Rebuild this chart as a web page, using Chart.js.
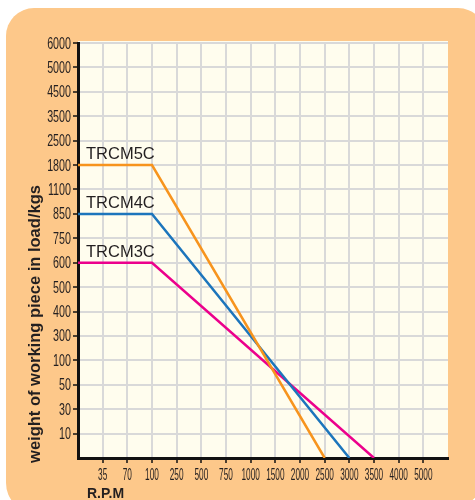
<!DOCTYPE html>
<html>
<head>
<meta charset="utf-8">
<script src="https://cdn.jsdelivr.net/npm/chart.js@4"></script>
<style>
  body { margin: 0; background: #fff; }
  canvas { display: block; }
</style>
</head>
<body>
<canvas id="myChart" width="475" height="500"></canvas>
<script>
'use strict';
// tick values along the axes (spaced evenly, not to scale)
const rpmTicks = [0, 35, 70, 100, 250, 500, 750, 1000, 1500, 2000, 2500, 3000, 3500, 4000, 5000];
const loadTicks = [0, 10, 30, 50, 100, 300, 400, 500, 600, 750, 850, 1100, 1800, 2500, 3500, 4500, 5000, 6000];

// series
const seriesNames = ['TRCM5C', 'TRCM4C', 'TRCM3C'];
const seriesColors = ['#F7941D', '#1C75BC', '#EC008C'];
const rpm5 = [0, 100, 2500];
const load5 = [1800, 1800, 0];
const rpm4 = [0, 100, 3000];
const load4 = [850, 850, 0];
const rpm3 = [0, 100, 3500];
const load3 = [600, 600, 0];

// value -> position on the evenly spaced axis
const toPoints = (rpm, load) => rpm.map((r, i) => ({
  x: rpmTicks.indexOf(r),
  y: loadTicks.indexOf(load[i])
}));

// the tick numbers are a narrow face, squeeze the text horizontally
const tickFont = '16.5px "Liberation Sans", Arial, sans-serif';
const squeezeY = 0.65;
const squeezeX = 0.5;

// background panel and plot fill
const panelPlugin = {
  id: 'panel',
  beforeDraw(chart) {
    const ctx = chart.ctx;
    const a = chart.chartArea;
    ctx.save();
    ctx.fillStyle = '#ffffff';
    ctx.fillRect(0, 0, chart.width, chart.height);
    ctx.fillStyle = '#FDC88A';
    ctx.beginPath();
    ctx.roundRect(6, 8, 480, 505, [28, 28, 45, 30]);
    ctx.fill();
    ctx.fillStyle = '#FFFDEE';
    ctx.fillRect(a.left, a.top - 2, a.right - a.left, a.bottom - a.top + 2);
    ctx.restore();
  }
};

// narrow tick labels, series names and axis titles
const labelPlugin = {
  id: 'labels',
  afterDatasetsDraw(chart) {
    const ctx = chart.ctx;
    const a = chart.chartArea;
    const xs = chart.scales.x;
    const ys = chart.scales.y;
    ctx.save();
    ctx.fillStyle = '#231F20';

    ctx.font = tickFont;
    ctx.textBaseline = 'middle';
    loadTicks.forEach((v, i) => {
      if (i === 0) return;
      const y = ys.getPixelForValue(i);
      ctx.save();
      ctx.translate(a.left - 7, y + 1);
      ctx.scale(squeezeY, 1);
      ctx.textAlign = 'right';
      ctx.fillText(String(v), 0, 0);
      ctx.restore();
    });
    ctx.textBaseline = 'top';
    rpmTicks.forEach((v, i) => {
      if (i === 0) return;
      const x = xs.getPixelForValue(i);
      ctx.save();
      ctx.translate(x, a.bottom + 9);
      ctx.scale(squeezeX, 1);
      ctx.textAlign = 'center';
      ctx.fillText(String(v), 0, 0);
      ctx.restore();
    });

    ctx.textAlign = 'left';
    ctx.textBaseline = 'alphabetic';
    ctx.font = '16.5px "Liberation Sans", Arial, sans-serif';
    chart.data.datasets.forEach((ds) => {
      const y = ys.getPixelForValue(ds.data[0].y);
      ctx.fillText(ds.label, a.left + 8, y - 6);
    });

    ctx.font = 'bold 14px "Liberation Sans", Arial, sans-serif';
    ctx.fillText('R.P.M', 87, 498);

    ctx.translate(35, 324);
    ctx.rotate(-Math.PI / 2);
    ctx.textAlign = 'center';
    ctx.textBaseline = 'middle';
    ctx.font = 'bold 16.5px "Liberation Sans", Arial, sans-serif';
    ctx.fillText('weight of working piece in load/kgs', 0, 0);
    ctx.restore();
  }
};

const ctx = document.getElementById('myChart').getContext('2d');
const chart = new Chart(ctx, {
  type: 'line',
  data: {
    datasets: [
      { label: seriesNames[0], data: toPoints(rpm5, load5) },
      { label: seriesNames[1], data: toPoints(rpm4, load4) },
      { label: seriesNames[2], data: toPoints(rpm3, load3) }
    ].map((ds, i) => Object.assign(ds, {
      borderColor: seriesColors[i],
      borderWidth: 2.5,
      pointRadius: 0,
      fill: false,
      tension: 0
    }))
  },
  options: {
    responsive: false,
    animation: false,
    devicePixelRatio: 1,
    layout: { padding: { left: 0, top: 43, right: 27, bottom: 0 } },
    plugins: {
      legend: { display: false },
      tooltip: { enabled: false }
    },
    scales: {
      x: {
        type: 'linear',
        min: 0,
        max: 15,
        afterFit(scale) { scale.height = 42; },
        border: { color: '#111', width: 3 },
        grid: {
          color: (c) => (c.tick.value === 0 || c.tick.value === 15) ? 'rgba(0,0,0,0)' : '#D9D9D9',
          lineWidth: 2,
          tickColor: (c) => (c.tick.value === 0 || c.tick.value === 15) ? 'rgba(0,0,0,0)' : '#111',
          tickLength: 5,
          tickWidth: 1.5
        },
        ticks: {
          stepSize: 1,
          autoSkip: false,
          maxRotation: 0,
          color: 'rgba(0,0,0,0)'
        }
      },
      y: {
        type: 'linear',
        min: 0,
        max: 17,
        afterFit(scale) { scale.width = 78; },
        border: { color: '#111', width: 3 },
        grid: {
          color: (c) => c.tick.value === 0 ? 'rgba(0,0,0,0)' : '#D9D9D9',
          lineWidth: 2,
          tickColor: (c) => c.tick.value === 0 ? 'rgba(0,0,0,0)' : '#111',
          tickLength: 5,
          tickWidth: 1.5
        },
        ticks: {
          stepSize: 1,
          autoSkip: false,
          color: 'rgba(0,0,0,0)'
        }
      }
    }
  },
  plugins: [panelPlugin, labelPlugin]
});
</script>
</body>
</html>
